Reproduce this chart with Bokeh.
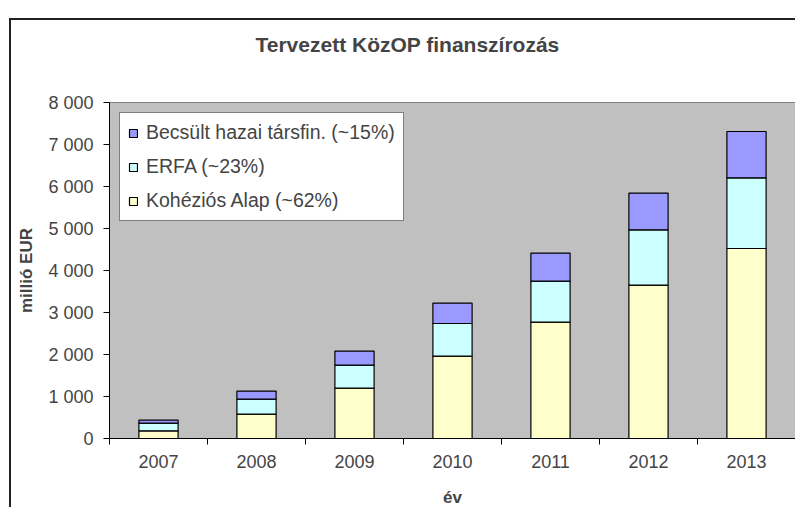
from bokeh.plotting import figure
from bokeh.models import (ColumnDataSource, FixedTicker, Legend, LegendItem, Title,
                          LinearAxis, Range1d)
from bokeh.embed import file_html
from bokeh.resources import INLINE

# ---- data ----
years = ["2007", "2008", "2009", "2010", "2011", "2012", "2013"]
kohezios = [183, 581, 1200, 1962, 2771, 3652, 4524]
erfa = [184, 357, 548, 776, 977, 1317, 1683]
becsult = [71, 191, 333, 486, 666, 874, 1103]
series_names = ["Kohéziós Alap (~62%)", "ERFA (~23%)", "Becsült hazai társfin. (~15%)"]
y_ticks = [0, 1000, 2000, 3000, 4000, 5000, 6000, 7000, 8000]
y_tick_labels = ["0", "1 000", "2 000", "3 000", "4 000", "5 000", "6 000", "7 000", "8 000"]
title_text = "Tervezett KözOP finanszírozás"
x_title = "év"
y_title = "millió EUR"

colors = ["#FFFFCC", "#CCFFFF", "#9999FF"]
FONT = "Liberation Sans"

xc = [i + 0.5 for i in range(len(years))]
src = ColumnDataSource(dict(x=xc, k=kohezios, e=erfa, b=becsult))

p = figure(width=786, height=489, output_backend="svg", toolbar_location=None,
           x_range=Range1d(0, len(years)), y_range=Range1d(0, 8000),
           x_axis_type=None, y_axis_type=None,
           min_border_left=98, min_border_right=2, min_border_top=82, min_border_bottom=71)
p.margin = (18, 0, 0, 9)
p.styles = {"border-left": "2px solid #222222", "border-top": "2px solid #222222"}
p.background_fill_color = "#C0C0C0"
p.border_fill_color = "white"
p.outline_line_color = "#808080"
p.outline_line_width = 1

renderers = p.vbar_stack(["k", "e", "b"], x="x", width=0.4, source=src,
                         fill_color=colors, line_color="black", line_width=1.2)

# axes
yax = LinearAxis(ticker=FixedTicker(ticks=y_ticks),
                 major_label_overrides={t: l for t, l in zip(y_ticks, y_tick_labels)})
yax.axis_label = y_title
yax.axis_label_text_font = FONT
yax.axis_label_text_font_style = "bold"
yax.axis_label_text_font_size = "17px"
yax.axis_label_standoff = 9
yax.major_label_text_font = FONT
yax.major_label_text_font_size = "18px"
yax.major_label_standoff = 10
yax.major_tick_out = 6
yax.major_tick_in = 0
yax.minor_tick_line_color = None
yax.axis_line_color = "black"
yax.major_tick_line_color = "black"
p.add_layout(yax, "left")

xax = LinearAxis(ticker=FixedTicker(ticks=xc, minor_ticks=list(range(len(years) + 1))),
                 major_label_overrides={c: y for c, y in zip(xc, years)})
xax.axis_label = x_title
xax.axis_label_text_font = FONT
xax.axis_label_text_font_style = "bold"
xax.axis_label_text_font_size = "17px"
xax.axis_label_standoff = 17
xax.major_label_text_font = FONT
xax.major_label_text_font_size = "18px"
xax.major_label_standoff = 10
xax.major_tick_line_color = None
xax.major_tick_out = 0
xax.major_tick_in = 0
xax.minor_tick_out = 6
xax.minor_tick_in = 0
xax.minor_tick_line_color = "black"
xax.axis_line_color = "black"
p.add_layout(xax, "below")

# grid
p.xgrid.visible = False
p.ygrid.ticker = FixedTicker(ticks=y_ticks)
p.ygrid.grid_line_color = "black"
p.ygrid.grid_line_width = 1

# legend (reverse order)
items = [LegendItem(label=series_names[i], renderers=[renderers[i]]) for i in [2, 1, 0]]
legend = Legend(items=items, location="top_left", margin=10,
                label_text_font=FONT, label_text_font_size="19.5px",
                glyph_width=10, glyph_height=10, label_height=20, label_standoff=8,
                spacing=11, padding=8, border_line_color="black", border_line_width=1,
                background_fill_color="white", background_fill_alpha=1.0)
p.add_layout(legend, "center")

# title: a blank spacer panel next to the frame, then the real title above it
spacer = Title(text=" ", text_font_size="27px")
p.add_layout(spacer, "above")
title = Title(text=title_text, align="left", offset=146,
              text_font=FONT, text_font_style="bold", text_font_size="21px")
p.add_layout(title, "above")

open("out.html", "w").write(file_html(p, INLINE))
